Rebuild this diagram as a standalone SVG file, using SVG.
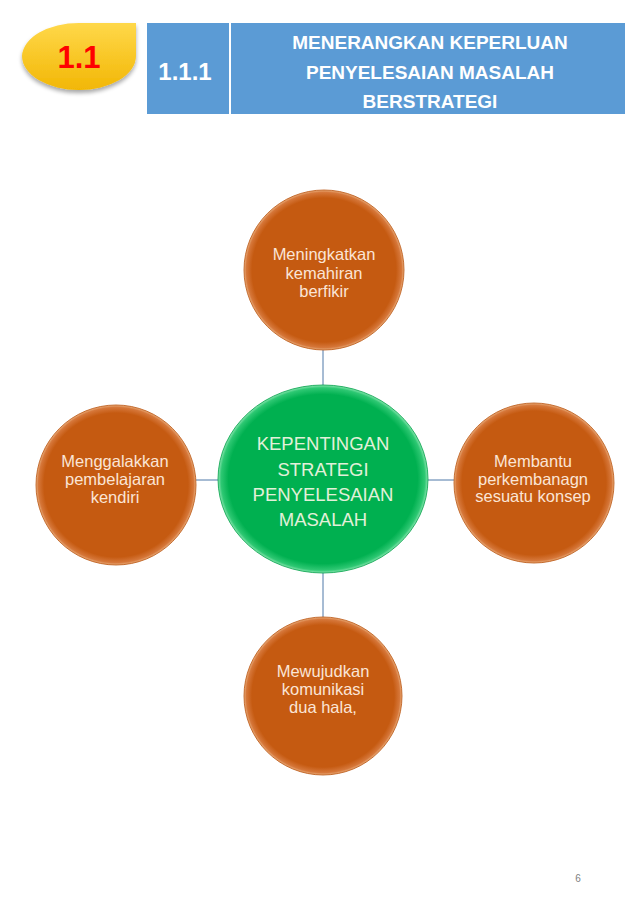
<svg xmlns="http://www.w3.org/2000/svg" width="638" height="922" viewBox="0 0 638 922">
<defs>
<radialGradient id="og" cx="50%" cy="50%" r="50%">
<stop offset="0" stop-color="#c55a11"/>
<stop offset="0.9" stop-color="#c55a11"/>
<stop offset="0.97" stop-color="#d6773a"/>
<stop offset="1" stop-color="#eab07e"/>
</radialGradient>
<radialGradient id="gg" cx="50%" cy="50%" r="50%">
<stop offset="0" stop-color="#00b050"/>
<stop offset="0.9" stop-color="#00b050"/>
<stop offset="0.97" stop-color="#2ec873"/>
<stop offset="1" stop-color="#8ae6b0"/>
</radialGradient>
<linearGradient id="yg" x1="0" y1="0" x2="0" y2="1">
<stop offset="0" stop-color="#ffd84a"/>
<stop offset="1" stop-color="#f2b705"/>
</linearGradient>
<filter id="sh" x="-20%" y="-20%" width="140%" height="150%">
<feGaussianBlur in="SourceAlpha" stdDeviation="2"/>
<feOffset dx="0" dy="3"/>
<feComponentTransfer><feFuncA type="linear" slope="0.35"/></feComponentTransfer>
<feMerge><feMergeNode/><feMergeNode in="SourceGraphic"/></feMerge>
</filter>
</defs>
<style>
.hdr{fill:#5b9bd5}
.ht{font-family:"Liberation Sans",Arial,sans-serif;font-weight:bold;fill:#ffffff;text-anchor:middle}
.node{fill:url(#og);stroke:#b9530f;stroke-width:0.8}
.ot{font-family:"Liberation Sans",Arial,sans-serif;font-size:16.5px;fill:#fbe5d6;text-anchor:middle}
.gt{font-family:"Liberation Sans",Arial,sans-serif;font-size:18.5px;fill:#e2f0d9;text-anchor:middle}
.conn{stroke:#4f79a8;stroke-width:1;fill:none}
</style>
<rect width="638" height="922" fill="#ffffff"/>

<g id="badge">
<path d="M136,23 V56 A57,34 0 0 1 79,90 A57,34 0 0 1 22,56 A57,34 0 0 1 79,23 Z" fill="url(#yg)" filter="url(#sh)"/>
<text x="79" y="68" font-family="'Liberation Sans',Arial,sans-serif" font-weight="bold" font-size="31" fill="#ff0000" text-anchor="middle">1.1</text>
</g>

<g id="header-num">
<rect class="hdr" x="147" y="23" width="82" height="91"/>
<text class="ht" x="185" y="80" font-size="24">1.1.1</text>
</g>

<g id="header-title">
<rect class="hdr" x="231" y="23" width="394" height="91"/>
<text class="ht" x="430" y="49" font-size="19">MENERANGKAN KEPERLUAN</text>
<text class="ht" x="430" y="79" font-size="19">PENYELESAIAN MASALAH</text>
<text class="ht" x="430" y="108" font-size="19">BERSTRATEGI</text>
</g>

<g id="connectors">
<line class="conn" x1="323" y1="350" x2="323" y2="386"/>
<line class="conn" x1="323" y1="573" x2="323" y2="617"/>
<line class="conn" x1="196" y1="480" x2="219" y2="480"/>
<line class="conn" x1="427" y1="480" x2="454" y2="480"/>
</g>

<g id="center">
<ellipse cx="323" cy="479" rx="105" ry="94" fill="url(#gg)" stroke="#00a048" stroke-width="0.8"/>
<text class="gt" x="323" y="450">KEPENTINGAN</text>
<text class="gt" x="323" y="476">STRATEGI</text>
<text class="gt" x="323" y="501">PENYELESAIAN</text>
<text class="gt" x="323" y="526">MASALAH</text>
</g>

<g id="top">
<circle class="node" cx="324" cy="270" r="80"/>
<text class="ot" x="324" y="260">Meningkatkan</text>
<text class="ot" x="324" y="279">kemahiran</text>
<text class="ot" x="324" y="297">berfikir</text>
</g>

<g id="left">
<circle class="node" cx="116" cy="485" r="80"/>
<text class="ot" x="115" y="467">Menggalakkan</text>
<text class="ot" x="115" y="485">pembelajaran</text>
<text class="ot" x="115" y="503">kendiri</text>
</g>

<g id="right">
<circle class="node" cx="534" cy="483" r="80"/>
<text class="ot" x="533" y="467">Membantu</text>
<text class="ot" x="533" y="485">perkembanagn</text>
<text class="ot" x="533" y="502">sesuatu konsep</text>
</g>

<g id="bottom">
<circle class="node" cx="323" cy="696" r="79"/>
<text class="ot" x="323" y="677">Mewujudkan</text>
<text class="ot" x="323" y="695">komunikasi</text>
<text class="ot" x="323" y="713">dua hala,</text>
</g>

<text x="578" y="882" font-family="'Liberation Sans',Arial,sans-serif" font-size="10" fill="#7f7f7f" text-anchor="middle">6</text>
</svg>
